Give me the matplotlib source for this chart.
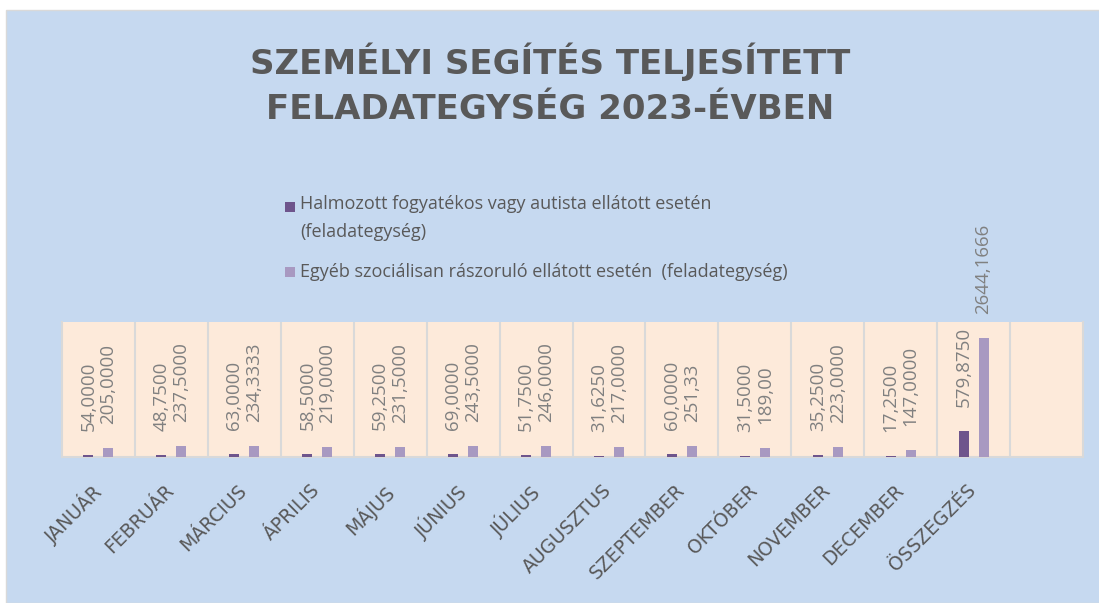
import matplotlib
matplotlib.use("Agg")
import matplotlib.pyplot as plt
from matplotlib.patches import Rectangle
from matplotlib.transforms import ScaledTranslation
import numpy as np

# adatok
honapok = ["JANUÁR", "FEBRUÁR", "MÁRCIUS", "ÁPRILIS", "MÁJUS", "JÚNIUS", "JÚLIUS",
           "AUGUSZTUS", "SZEPTEMBER", "OKTÓBER", "NOVEMBER", "DECEMBER", "ÖSSZEGZÉS"]
halmozott = [54.0, 48.75, 63.0, 58.5, 59.25, 69.0, 51.75, 31.625, 60.0, 31.5, 35.25, 17.25, 579.875]
egyeb = [205.0, 237.5, 234.3333, 219.0, 231.5, 243.5, 246.0, 217.0, 251.33, 189.0, 223.0, 147.0, 2644.1666]
cimke_halmozott = ["54,0000", "48,7500", "63,0000", "58,5000", "59,2500", "69,0000", "51,7500",
                   "31,6250", "60,0000", "31,5000", "35,2500", "17,2500", "579,8750"]
cimke_egyeb = ["205,0000", "237,5000", "234,3333", "219,0000", "231,5000", "243,5000", "246,0000",
               "217,0000", "251,33", "189,00", "223,0000", "147,0000", "2644,1666"]
nev_halmozott = "Halmozott fogyatékos vagy autista ellátott esetén\n(feladategység)"
nev_egyeb = "Egyéb szociálisan rászoruló ellátott esetén  (feladategység)"

SOTET = "#6e558c"
VILAGOS = "#a899c1"
KEK = "#c6d9f0"
BARACK = "#fdeada"
SZURKE = "#595959"

plt.rcParams["font.family"] = ["Open Sans", "DejaVu Sans"]

fig = plt.figure(figsize=(10.99, 6.03), dpi=100, facecolor="white")
fig.patches.append(Rectangle((6 / 1099, 0), 1, 1 - 10 / 603, transform=fig.transFigure,
                             facecolor=KEK, edgecolor="#d9d9d9", linewidth=1, zorder=-10))

ax = fig.add_axes([62 / 1099, 1 - 457 / 603, 1021 / 1099, 135 / 603])
ax.set_facecolor(BARACK)

x = np.arange(len(honapok))
w = 0.137
ax.bar(x - w, halmozott, width=w, color=SOTET, zorder=3)
ax.bar(x + w, egyeb, width=w, color=VILAGOS, zorder=3)

for xi, v, c in zip(x, halmozott, cimke_halmozott):
    ax.annotate(c, (xi - w, v), xytext=(0, 24), textcoords="offset pixels", rotation=90,
                ha="center", va="bottom", fontsize=13.5, color="#808080")
for xi, v, c in zip(x, egyeb, cimke_egyeb):
    ax.annotate(c, (xi + w, v), xytext=(0, 24), textcoords="offset pixels", rotation=90,
                ha="center", va="bottom", fontsize=13.5, color="#808080")

ax.set_xlim(-0.5, len(honapok) + 0.5)
ax.set_ylim(0, 3000)
ax.set_yticks([])
ax.set_xticks(np.arange(0.5, len(honapok), 1), minor=True)
ax.grid(True, which="minor", axis="x", color="#d9d9d9", linewidth=1.5, zorder=1)
ax.tick_params(axis="x", which="minor", length=0)
ax.tick_params(axis="x", which="major", length=0, pad=17)
ax.set_xticks(x)
ax.set_xticklabels(honapok, rotation=45, ha="right", va="top", rotation_mode="anchor",
                   fontsize=13.5, color=SZURKE, fontfamily="DejaVu Sans")
eltolas = ScaledTranslation(-7 / 100, 0, fig.dpi_scale_trans)
for t in ax.get_xticklabels():
    t.set_transform(t.get_transform() + eltolas)
for s in ["left", "right", "bottom"]:
    ax.spines[s].set_color("#d9d9d9")
    ax.spines[s].set_linewidth(1.5)
ax.spines["top"].set_visible(False)

fig.text(550 / 1099, 1 - 84 / 603, "SZEMÉLYI SEGÍTÉS TELJESÍTETT\nFELADATEGYSÉG 2023-ÉVBEN",
         ha="center", va="center", fontsize=24.5, fontweight="bold", color=SZURKE,
         linespacing=1.45, family="DejaVu Sans")

# jelmagyarázat
fig.patches.append(Rectangle((285 / 1099, 1 - 212 / 603), 10 / 1099, 10 / 603,
                             transform=fig.transFigure, facecolor=SOTET))
fig.patches.append(Rectangle((285 / 1099, 1 - 277 / 603), 10 / 1099, 10 / 603,
                             transform=fig.transFigure, facecolor=VILAGOS))
fig.text(300 / 1099, 1 - 195 / 603, nev_halmozott, ha="left", va="top", fontsize=13,
         color=SZURKE, linespacing=1.7)
fig.text(300 / 1099, 1 - 272 / 603, nev_egyeb, ha="left", va="center", fontsize=13,
         color=SZURKE)

fig.savefig("out.png", dpi=100, facecolor=fig.get_facecolor())
